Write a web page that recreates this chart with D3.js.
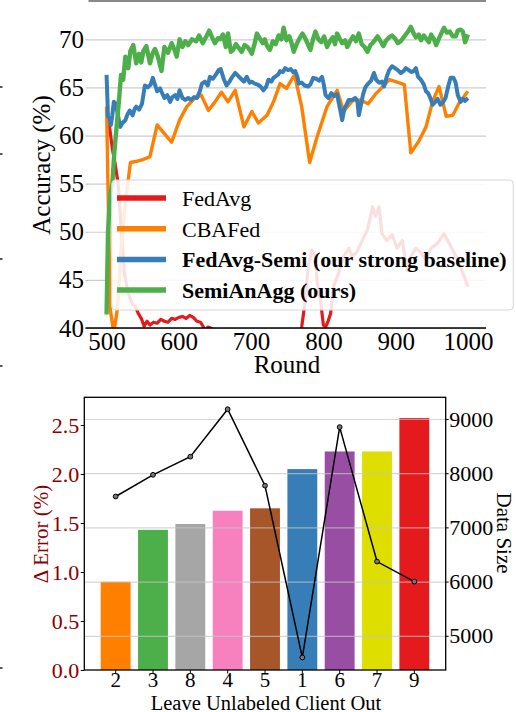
<!DOCTYPE html>
<html>
<head>
<meta charset="utf-8">
<script src="https://cdn.jsdelivr.net/npm/d3@7"></script>
<style>
  body { margin: 0; background: #fff; }
  svg { display: block; font-family: "Liberation Serif", "Times New Roman", serif; }
</style>
</head>
<body>
<svg id="fig" width="516" height="712"></svg>
<script>
// ---- top chart: accuracy per round ----
const fedavgRounds = [500,504,508,512,516,520,525,530,535,540,544,548,552,556,560,565,570,575,580,585,590,595,600,605,610,615,620,625,630,634,637,640,644,648,652,660,680,700,720,740,760,767,770,775,779,784,789,791,796,800,803,806,810,814,821,828,835,840,847,854,861,868,872,877,881,888,895,902,909,916,921,928,935,942,949,958,967,974,981,988,995,1000];
const fedavgAcc = [62.5,61,58.6,57,55,50.5,45.5,43.6,42.6,42.2,41.5,41,40.2,40.7,40.3,40.6,40.5,40.9,40.7,40.6,41,40.9,41.1,41.2,41,41.3,41.1,40.7,40.6,40.1,39.6,40.1,40,39.8,39.2,38.5,37.6,38.2,37.4,37.9,38.6,39.2,40.1,42.9,46.4,48.1,47.4,45,42.9,40.3,40.1,40.6,41.5,44.3,45.7,47.4,48.3,47.4,48,49.1,50.2,52.6,51.6,52.6,49.8,49.1,49.7,48.3,49.1,46,47.4,48.3,47.8,47.1,48.3,48.8,49.8,48.8,47.8,46.7,45.3,44.3];

const cbafedRounds = [500,505,510,515,520,526,533,540,550,560,570,580,590,601,611,622,631,641,650,659,668,678,690,701,710,722,731,740,749,760,770,781,791,805,819,828,840,851,862,872,884,891,900,912,921,932,942,951,960,970,979,988,1000];
const cbafedAcc = [63,42,39.5,42,48,53,57.2,57.3,57.5,57.8,61.1,60.2,59.3,61.6,63,63.9,64.2,62.6,63.5,64.5,63.5,64.7,60.9,62.5,61.3,62.1,63.5,65.4,64.9,66.3,63,57.2,59.8,63,64.7,62.5,63.6,63.7,63.3,64.3,65.2,65.8,65.6,65.3,58.2,59.4,60.9,63.5,65.1,62,62.1,63.4,64.6];

const semiRounds = [500,502,504,506,508,510,513,516,519,522,526,529,532,536,539,541,545,549,553,557,561,564,567,570,574,577,580,584,588,591,595,598,601,605,609,613,617,621,625,629,632,636,640,643,647,651,655,658,662,666,670,674,678,682,686,690,694,698,701,705,709,713,717,721,724,728,731,735,738,740,744,747,751,755,758,761,764,766,770,774,779,782,786,790,794,798,800,803,807,811,815,819,821,824,826,829,832,835,840,844,847,849,852,855,858,862,866,870,873,877,881,884,888,891,895,899,903,907,911,914,918,922,925,928,931,935,939,942,945,948,951,955,958,962,965,969,973,976,980,983,986,990,993,996,1000];
const semiAcc = [66.3,62,61.8,61.1,62.1,63.5,63.3,62,60.9,61.3,61.6,62.2,62.6,62.1,62.8,63,62.7,63.3,65.2,65,65.3,66,65.3,64.6,64.9,64.4,63.9,64.2,63.5,64,64.2,63.8,64.7,63.9,63.7,63.9,63.7,64,63.9,64.6,65.4,65.6,65.2,66.1,65.9,66.3,66.8,66.9,65.9,65.2,65.6,66.1,66.5,66.2,65.9,65.6,66.1,65.5,65.6,65.4,65.3,65.1,64.7,65.1,65.8,65.6,66,66.2,66.4,66.7,66.6,67,66.8,66.9,66.6,66.7,66.1,65.4,65.5,65.2,65.1,65.3,66,65.9,65.7,66.1,65.5,64.2,63.9,64.4,64.1,64.3,63.5,62.4,61.6,62.8,63.2,63.7,63.7,63.9,63.6,62.1,63.2,64.3,65,65.4,65.7,66.5,65.8,65.5,65.6,65.1,66.2,66.8,67.2,67,66.8,66.5,66.7,67,66.8,66.6,66.7,67,66.1,65.8,65.3,64.6,64.4,63.9,63.2,63.5,63.8,63.2,63.4,63.9,65.2,66,66,65.5,64.2,63.5,63.8,63.6,63.9];

const oursRounds = [500,502,505,508,511,514,517,520,523,526,530,533,537,541,545,548,551,555,560,564,567,571,576,580,585,590,594,597,601,605,609,613,618,624,628,633,638,642,646,650,654,657,661,665,668,672,675,679,683,687,691,695,698,701,705,708,712,716,719,722,726,730,734,738,742,745,749,753,756,759,763,767,771,775,779,782,786,789,793,797,801,805,809,813,816,819,823,826,830,833,837,841,845,849,853,857,861,865,868,872,875,879,883,887,891,895,899,903,907,911,914,918,921,925,928,932,935,939,942,946,949,953,956,960,963,967,971,975,979,983,986,990,993,996,999,1000];
const oursAcc = [41.4,50,54,55,58.5,61,63.5,66.3,65.8,68.2,67,68.8,69.4,67.5,68.5,67.6,68.8,69.3,67.5,68.6,69,68.2,66.7,69.2,68.6,69.6,68.9,68.2,70,69.2,69.8,69.4,70,69.8,70.4,69.6,70.3,70.9,70.2,69.6,70.1,70,70.5,69.2,70.6,68.7,68.9,69.5,69.1,68.7,69.4,69.2,68.9,68.5,69.6,70.6,70.1,69.6,70,69.3,68.9,69.8,69.5,70.4,70,71.2,69.9,70.3,69.6,68.7,69.5,70.1,70.6,70.1,69.4,68.9,70.1,70.8,70,69.7,70.3,69.2,69.8,70.2,69.5,70.6,70,69.6,69.9,69.2,69.8,70.3,69.8,70.6,69.5,69.2,68.7,69.4,69.6,70,70.3,69.8,69.3,69.9,70.2,70.4,70.1,69.6,69.8,70.2,70.5,70.9,71.3,70.6,70.2,70.5,69.9,70.4,70.1,69.7,70.5,70,69.4,70.1,70.6,71.2,70.7,70.8,70.3,70.3,70.9,71,70.8,69.7,70.3,70.5];

const seriesNames = ["FedAvg", "CBAFed", "FedAvg-Semi (our strong baseline)", "SemiAnAgg (ours)"];
const accTicks = [40, 45, 50, 55, 60, 65, 70];
const roundTicks = [500, 600, 700, 800, 900, 1000];

// ---- bottom chart: leave one unlabeled client out ----
const clients = ["2", "3", "8", "4", "5", "1", "6", "7", "9"];
const deltaError = [0.9, 1.43, 1.49, 1.625, 1.65, 2.05, 2.23, 2.23, 2.57];
const dataSize = [7570, 7970, 8305, 9180, 7770, 4600, 8850, 6370, 6000];
const errTicks = [0, 0.5, 1, 1.5, 2, 2.5];
const sizeTicks = [5000, 6000, 7000, 8000, 9000];

const lineColors = ["#e41a1c", "#ff7f00", "#377eb8", "#4daf4a"];
const lineWidths = [3.2, 3.4, 4, 4.4];
const barColors = ["#ff7f00", "#4daf4a", "#a6a6a6", "#f781bf", "#a65628", "#377eb8", "#984ea3", "#dede00", "#e41a1c"];

const svg = d3.select("#fig");
const grid = "#cccccc";
const serif = "Liberation Serif";

// stray marks of the neighbouring figure on the left edge
svg.append("g").selectAll("rect").data([87, 154, 259, 366, 668]).enter().append("rect")
  .attr("x", 0).attr("y", d => d - 1).attr("width", 2.5).attr("height", 2).attr("fill", "#555");

// ======================= top chart =======================
const pt = { left: 88.5, right: 486, top: 15.25, bottom: 328 };
const xR = d3.scaleLinear().domain([475, 1025]).range([pt.left, pt.right]);
const yA = d3.scaleLinear().domain([40, 72.5]).range([pt.bottom, pt.top]);

// thin grey rule above the plot (bottom of the figure above)
svg.append("line").attr("x1", pt.left).attr("x2", pt.right).attr("y1", 1).attr("y2", 1)
  .attr("stroke", "#888").attr("stroke-width", 2);

// gridlines
svg.append("g").attr("transform", `translate(${pt.left},0)`)
  .call(d3.axisLeft(yA).tickValues(accTicks).tickSize(-(pt.right - pt.left)).tickFormat(""))
  .call(g => g.select(".domain").remove())
  .call(g => g.selectAll("line").attr("stroke", grid).attr("stroke-width", 1.2));

// y ticks + labels
svg.append("g").attr("transform", `translate(${pt.left},0)`)
  .call(d3.axisLeft(yA).tickValues(accTicks).tickSize(3).tickPadding(1.5))
  .call(g => g.select(".domain").remove())
  .call(g => g.selectAll("line").attr("stroke", "#bbb"))
  .call(g => g.selectAll("text").attr("font-size", 25).attr("fill", "#000").attr("font-family", serif));

svg.append("clipPath").attr("id", "clipTop").append("rect")
  .attr("x", pt.left).attr("y", pt.top - 20).attr("width", pt.right - pt.left).attr("height", pt.bottom - pt.top + 20);

const series = [
  { rounds: fedavgRounds, acc: fedavgAcc },
  { rounds: cbafedRounds, acc: cbafedAcc },
  { rounds: semiRounds, acc: semiAcc },
  { rounds: oursRounds, acc: oursAcc }
];

const line = d3.line().x(d => xR(d[0])).y(d => yA(d[1]));
const gLines = svg.append("g").attr("clip-path", "url(#clipTop)");
series.forEach((s, i) => {
  const pts = s.rounds.map((r, k) => [r, s.acc[k]]);
  gLines.append("path").datum(pts)
    .attr("d", line)
    .attr("fill", "none")
    .attr("stroke", lineColors[i])
    .attr("stroke-width", lineWidths[i])
    .attr("stroke-linejoin", "round");
});

// x axis
svg.append("g").attr("transform", `translate(0,${pt.bottom})`)
  .call(d3.axisBottom(xR).tickValues(roundTicks).tickSize(0).tickPadding(4).tickSizeOuter(0).tickFormat(d3.format("d")))
  .call(g => g.select(".domain").attr("stroke", "#000").attr("stroke-width", 1.3).attr("d", `M${pt.left - 3},0H${pt.right}`))
  .call(g => g.selectAll("text").attr("font-size", 25).attr("fill", "#000").attr("font-family", serif));

svg.append("text").attr("x", 287).attr("y", 373).attr("text-anchor", "middle")
  .attr("font-size", 25).text("Round");
svg.append("text").attr("transform", "translate(50,165) rotate(-90)").attr("text-anchor", "middle")
  .attr("font-size", 25).text("Accuracy (%)");

// legend
const lg = svg.append("g");
lg.append("rect").attr("x", 111.7).attr("y", 180).attr("width", 401.6).attr("height", 130).attr("rx", 4)
  .attr("fill", "#fff").attr("fill-opacity", 0.86).attr("stroke", "#d6d6d6").attr("stroke-width", 1);
seriesNames.forEach((name, i) => {
  const y = 198 + i * 30.7;
  lg.append("line").attr("x1", 117).attr("x2", 166).attr("y1", y).attr("y2", y)
    .attr("stroke", lineColors[i]).attr("stroke-width", 5.5);
  lg.append("text").attr("x", 182).attr("y", y).attr("dy", "0.36em")
    .attr("font-size", 22).attr("font-weight", i >= 2 ? "bold" : "normal").text(name);
});

// ======================= bottom chart =======================
const pb = { left: 84.3, right: 445.7, top: 397.3, bottom: 670 };
const xC = d3.scaleBand().domain(clients).range([pb.left, pb.right]).paddingInner(0.2).paddingOuter(0.44);
const yE = d3.scaleLinear().domain([0, 2.7827]).range([pb.bottom, pb.top]);
const yS = d3.scaleLinear().domain([4369, 9400]).range([pb.bottom, pb.top]);

svg.append("g").selectAll("rect").data(clients).enter().append("rect")
  .attr("x", d => xC(d))
  .attr("width", xC.bandwidth())
  .attr("y", (d, i) => yE(deltaError[i]))
  .attr("height", (d, i) => pb.bottom - yE(deltaError[i]))
  .attr("fill", (d, i) => barColors[i]);

// gridlines of the data-size axis, drawn over the bars
svg.append("g").attr("transform", `translate(${pb.left},0)`)
  .call(d3.axisRight(yS).tickValues(sizeTicks).tickSize(pb.right - pb.left).tickFormat(""))
  .call(g => g.select(".domain").remove())
  .call(g => g.selectAll("line").attr("stroke", "#c4c4c4").attr("stroke-opacity", 0.7).attr("stroke-width", 1.2));

// data size line
const sizeLine = d3.line().x(d => xC(d[0]) + xC.bandwidth() / 2).y(d => yS(d[1]));
const sizePts = clients.map((c, i) => [c, dataSize[i]]);
svg.append("path").datum(sizePts).attr("d", sizeLine)
  .attr("fill", "none").attr("stroke", "#000").attr("stroke-width", 1.5);
svg.append("g").selectAll("circle").data(sizePts).enter().append("circle")
  .attr("cx", d => xC(d[0]) + xC.bandwidth() / 2).attr("cy", d => yS(d[1])).attr("r", 2.4)
  .attr("fill", "#777").attr("stroke", "#000").attr("stroke-width", 1);

// frame
svg.append("rect").attr("x", pb.left).attr("y", pb.top).attr("width", pb.right - pb.left).attr("height", pb.bottom - pb.top)
  .attr("fill", "none").attr("stroke", "#000").attr("stroke-width", 1.3);

// left axis (dark red)
svg.append("g").attr("transform", `translate(${pb.left},0)`)
  .call(d3.axisLeft(yE).tickValues(errTicks).tickSize(3.5).tickPadding(1.5).tickFormat(d3.format(".1f")))
  .call(g => g.select(".domain").remove())
  .call(g => g.selectAll("text").attr("font-size", 22).attr("fill", "#8b0000").attr("font-family", serif));

// right axis
svg.append("g").attr("transform", `translate(${pb.right},0)`)
  .call(d3.axisRight(yS).tickValues(sizeTicks).tickSize(3).tickPadding(0.5).tickFormat(d3.format("d")))
  .call(g => g.select(".domain").remove())
  .call(g => g.selectAll("text").attr("font-size", 22).attr("fill", "#000").attr("font-family", serif));

// bottom axis
svg.append("g").attr("transform", `translate(0,${pb.bottom})`)
  .call(d3.axisBottom(xC).tickSize(3.5).tickPadding(-1))
  .call(g => g.select(".domain").remove())
  .call(g => g.selectAll("text").attr("font-size", 21).attr("fill", "#000").attr("font-family", serif));

svg.append("text").attr("x", 266).attr("y", 709.5).attr("text-anchor", "middle")
  .attr("font-size", 20.5).text("Leave Unlabeled Client Out");
svg.append("text").attr("transform", "translate(48,534) rotate(-90)").attr("text-anchor", "middle")
  .attr("font-size", 21).attr("fill", "#8b0000").text("\u0394 Error (%)");
svg.append("text").attr("transform", "translate(497,533) rotate(90)").attr("text-anchor", "middle")
  .attr("font-size", 21).text("Data Size");
</script>
</body>
</html>
